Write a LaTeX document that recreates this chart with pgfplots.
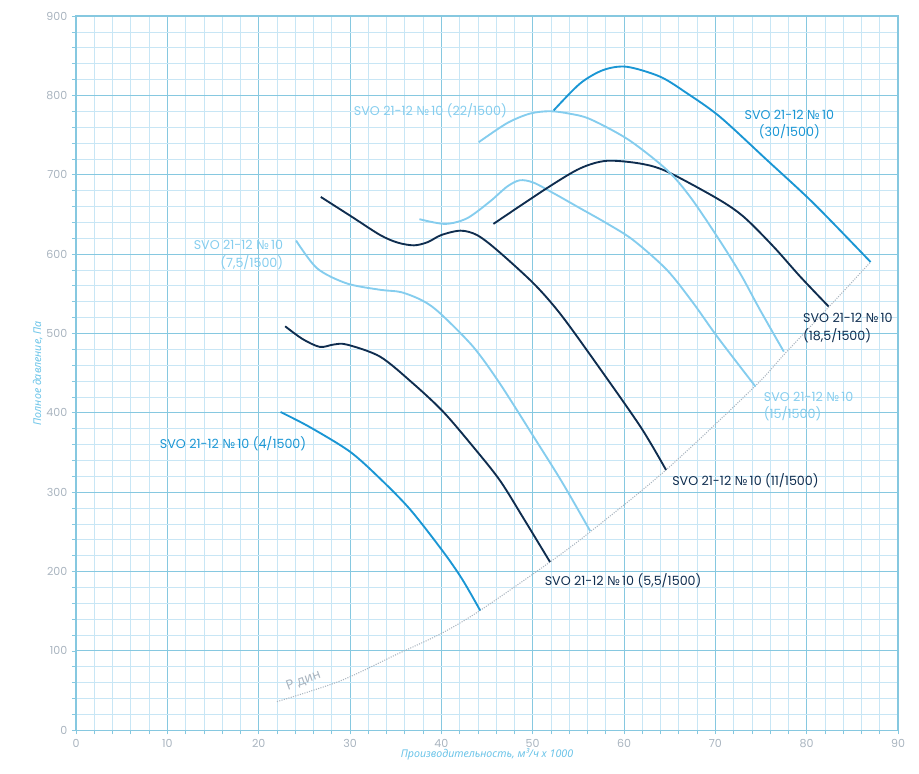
\documentclass[border=0pt]{standalone}
\usepackage{pgfplots}
\pgfplotsset{compat=1.18}
\usepackage{fontspec}
\setmainfont{Poppins}
\newfontfamily\nf{Noto Sans}
\newcommand{\No}{{\nf №}\,}
\definecolor{cdark}{HTML}{0F2D4F}
\definecolor{cmed}{HTML}{1A96D4}
\definecolor{clight}{HTML}{85CDEE}
\definecolor{gmaj}{HTML}{86C8E0}
\definecolor{gmin}{HTML}{C8E6F5}
\definecolor{tickg}{HTML}{A9B4BF}
\definecolor{atitle}{HTML}{6CC4E8}
\begin{document}
\begin{tikzpicture}
\begin{axis}[
  scale only axis, width=616.5pt, height=535.7pt,
  xmin=0, xmax=90, ymin=0, ymax=900,
  xtick={0,10,...,90}, ytick={0,100,...,900},
  minor x tick num=4, minor y tick num=4,
  grid=both,
  major grid style={gmaj, line width=0.6pt},
  minor grid style={gmin, line width=0.5pt},
  axis line style={gmaj, line width=0.8pt},
  tick style={gmaj, line width=0.5pt},
  tick align=outside, major tick length=3pt, minor tick length=3pt,
  xtick pos=bottom, ytick pos=left,
  /pgf/number format/assume math mode=true,
  ticklabel style={font=\fontsize{8.3}{9}\selectfont, text=tickg},
  xlabel={\nf\itshape Производительность, м³/ч x 1000},
  ylabel={\nf\itshape Полное давление, Па},
  label style={font=\fontsize{8}{9}\selectfont, text=atitle},
  xlabel style={yshift=6pt},
  ylabel style={yshift=-4pt},
  clip=false,
]
% P din
\addplot[tickg, densely dotted, line width=0.8pt, smooth] coordinates {
(22,36)(28.9,62)(35,95)(40,122)(44.25,151)(51.9,212)(56.3,250)(64.6,328)(74.3,433)(77.65,475)(82.4,533)(87,590)};
% 4/1500
\addplot[cmed, line width=1.4pt, smooth] coordinates {
(22.4,401)(25.6,382)(30.0,351)(33.3,317)(36.6,278)(40.2,225)(42.3,190)(44.25,151)};
% 5,5/1500
\addplot[cdark, line width=1.4pt, smooth] coordinates {
(22.9,509)(24.8,493)(26.7,483)(28.2,486)(29.65,486)(33.3,470.7)(36.9,437)(40.2,401.4)(43.5,357)(46.4,315)(49.0,267)(51.9,212)};
% 7,5/1500
\addplot[clight, line width=1.4pt, smooth] coordinates {
(24.1,617)(26.4,582)(29.65,563)(33.3,555)(35.6,552)(38,541)(39.9,525)(43.5,483)(46.4,437)(50.1,370)(53.2,313)(56.3,251)};
% 11/1500
\addplot[cdark, line width=1.4pt, smooth] coordinates {
(26.8,672)(30.2,647)(33.3,624)(35.2,614.5)(37,611)(38.5,615)(40,624)(42.1,629.5)(43.9,624)(46.1,605)(50.1,563)(53.0,525)(56.7,466.5)(61.8,382.5)(64.6,328)};
% 15/1500
\addplot[clight, line width=1.4pt, smooth] coordinates {
(37.6,644)(40.4,638)(42.8,645)(45.3,666)(47.2,685)(48.6,693)(50.1,690)(52.3,676.6)(55.2,657.7)(58.1,638.8)(61.0,617.7)(64.7,580)(67.6,538)(70.2,496)(74.4,433)};
% 18,5/1500
\addplot[cdark, line width=1.4pt, smooth] coordinates {
(45.7,638)(51.55,683)(55.2,708)(58.1,717.5)(61.8,714)(64.7,704)(70.2,670)(73.1,647)(76.4,609)(79.3,571.5)(82.4,534)};
% 22/1500
\addplot[clight, line width=1.4pt, smooth] coordinates {
(44.1,741)(47.2,765)(49.7,777)(51.9,780)(54,777)(56.3,770)(60.5,744)(64.7,706)(67.25,672)(70.2,622)(72.7,576)(74.9,529.5)(77.5,477)};
% 30/1500
\addplot[cmed, line width=1.4pt, smooth] coordinates {
(52.3,781)(55.2,815)(57.75,832)(60.3,836)(63.96,823.5)(66.9,802.6)(70.5,773)(75.65,718.5)(80.75,664)(87.0,590)};
% labels
\node[font=\fontsize{9.5}{11}\selectfont, text=cmed] at (axis cs:17.2,361) {SVO 21-12 \No10 (4/1500)};
\node[font=\fontsize{9.5}{11}\selectfont, text=cdark] at (axis cs:59.9,188) {SVO 21-12 \No10 (5,5/1500)};
\node[font=\fontsize{9.5}{13}\selectfont, text=clight, align=right, anchor=east] at (axis cs:23.2,599) {SVO 21-12 \No10\\(7,5/1500)};
\node[font=\fontsize{9.5}{11}\selectfont, text=cdark] at (axis cs:73.3,314) {SVO 21-12 \No10 (11/1500)};
\node[font=\fontsize{9.5}{13}\selectfont, text=clight, align=left, anchor=west] at (axis cs:74.8,408) {SVO 21-12 \No10\\(15/1500)};
\node[font=\fontsize{9.5}{13}\selectfont, text=cdark, align=left, anchor=west] at (axis cs:79.1,507) {SVO 21-12 \No10\\(18,5/1500)};
\node[font=\fontsize{9.5}{11}\selectfont, text=clight] at (axis cs:38.8,781) {SVO 21-12 \No10 (22/1500)};
\node[font=\fontsize{9.5}{13}\selectfont, text=cmed, align=center] at (axis cs:78.1,763) {SVO 21-12 \No10\\(30/1500)};
\node[font=\nf\fontsize{10}{11}\selectfont, text=tickg, rotate=20] at (axis cs:24.9,63) {Р~дин};
\end{axis}
\pgfresetboundingbox
\path[use as bounding box] ([xshift=-57pt,yshift=-32.8pt]current axis.south west) rectangle ([xshift=15.75pt,yshift=12pt]current axis.north east);
\end{tikzpicture}
\end{document}
